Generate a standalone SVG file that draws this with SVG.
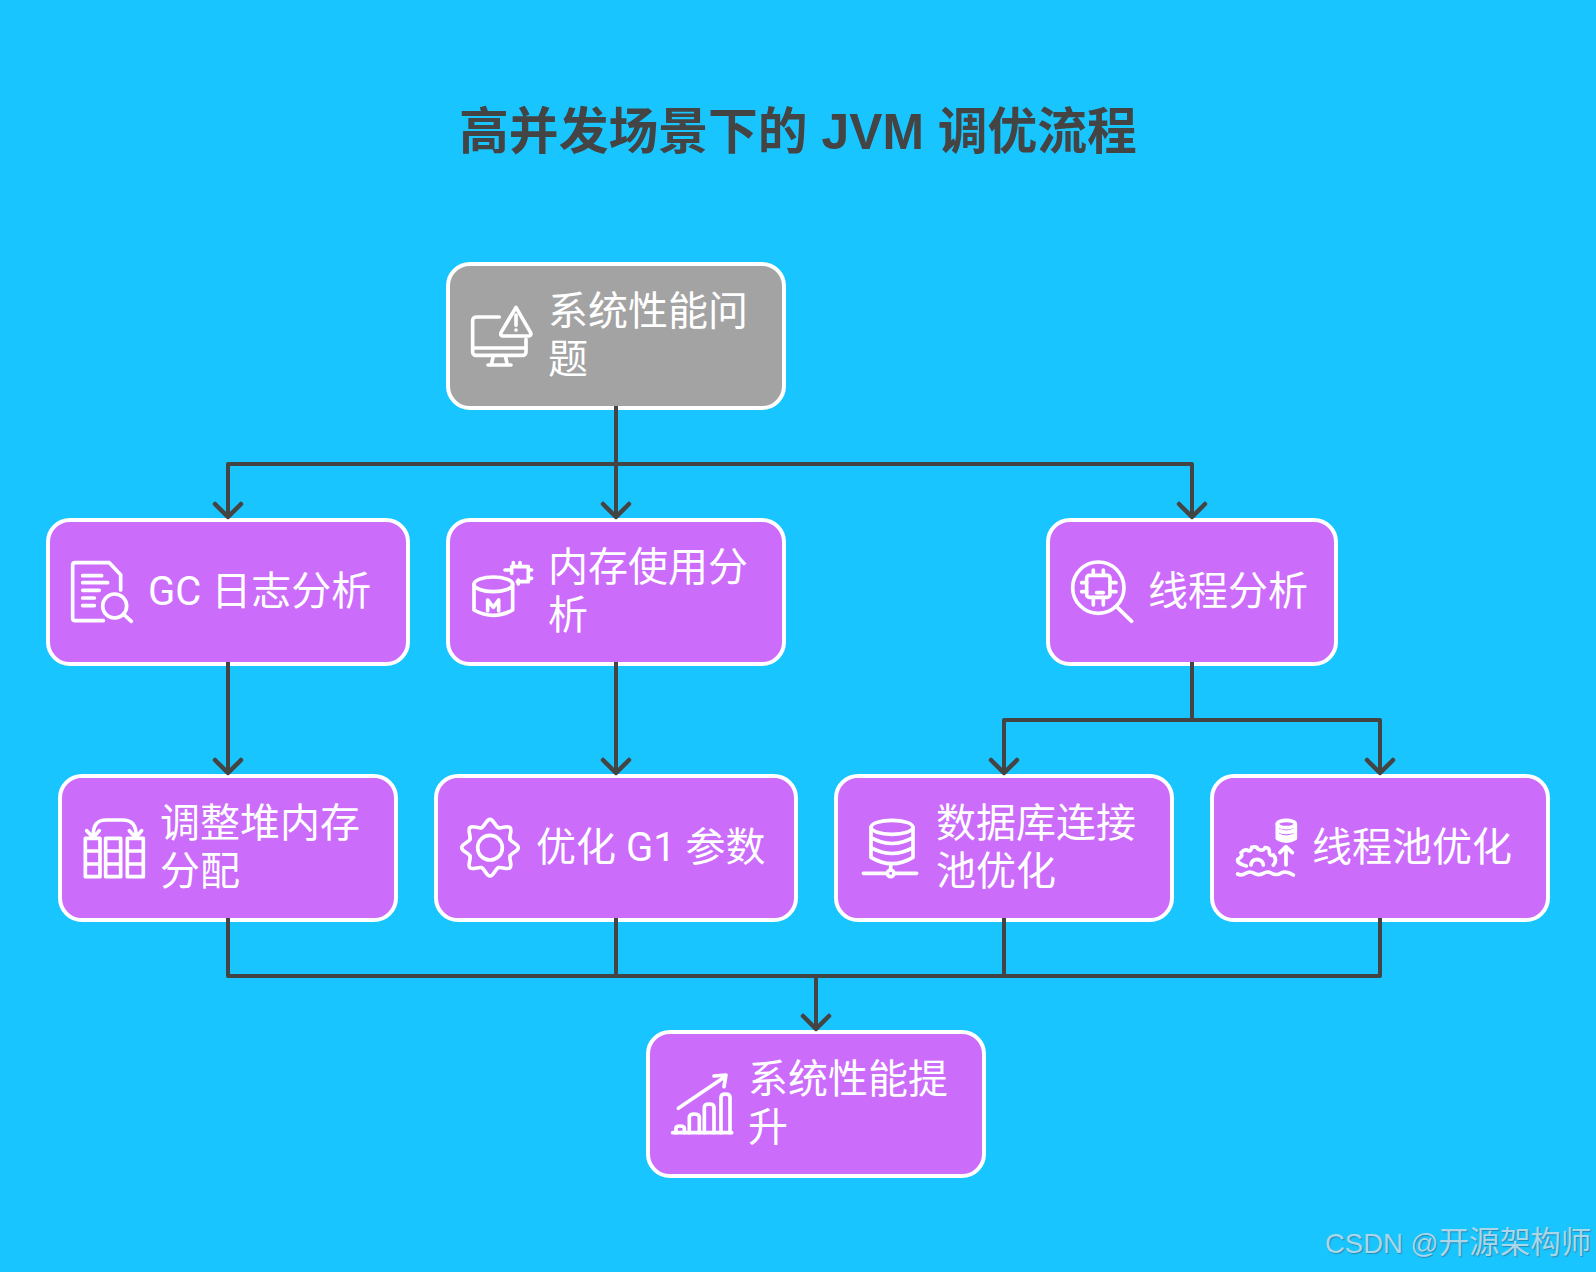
<svg xmlns="http://www.w3.org/2000/svg" xmlns:xlink="http://www.w3.org/1999/xlink" width="1596" height="1272" viewBox="0 0 1596 1272">
<style>
.box{stroke:#fff;stroke-width:4}
.p{fill:#cc6cfb}
.g{fill:#a3a3a3}
.t{font-family:Roboto,"Noto Sans CJK SC",sans-serif;font-size:40px;fill:#fff}
.ic{fill:none;stroke:#fff;stroke-width:11;stroke-linecap:round;stroke-linejoin:round}
.c{fill:none;stroke:#444;stroke-width:4;stroke-linejoin:round}
.a{fill:none;stroke:#444;stroke-width:4.5;stroke-linecap:round;stroke-linejoin:round}
.title{font-family:"Liberation Sans","Noto Sans CJK SC",sans-serif;font-size:49.8px;font-weight:700;fill:#444}
.wm{font-family:"Liberation Sans","Noto Sans CJK SC",sans-serif;font-size:27.5px;fill:#a9d6e8;text-shadow:1px 1px 1px rgba(50,90,120,.55)}
.wm2{font-size:30.6px}
</style>
<defs>
<path id="tooth" d="M-24.9-60C-16-63.8-11-85 0-85S16-63.8 24.9-60"/>
</defs>
<rect width="1596" height="1272" fill="#19c5ff"/>
<text class="title" x="798" y="149" text-anchor="middle">高并发场景下的 JVM 调优流程</text>
<g id="n1">
<rect class="box g" x="448" y="264" width="336" height="144" rx="22"/>
<g class="ic" transform="translate(430 250) scale(.3333)">
<path d="M208 201H138a10 10 0 0 0-10 10V306a10 10 0 0 0 10 10H278a10 10 0 0 0 10-10V268"/>
<path d="M128 294H288M190 318L184 344M226 318L232 344M174 345H243"/>
<path d="M258 172L302 248Q305 258 296 258H220Q210 258 213 248Z"/>
<path d="M258 195V226M258 240V240"/>
</g>
<text class="t" x="548" y="325">系统性能问</text>
<text class="t" x="548" y="373">题</text>
</g>
<g id="n2">
<rect class="box p" x="48" y="520" width="360" height="144" rx="22"/>
<g class="ic" transform="translate(40 510) scale(.3333)">
<path d="M190 332H106Q98 332 98 324V166Q98 158 106 158H208L242 194V240"/>
<path d="M128 197H185M128 218H203M128 241H178M128 264H163M128 287H163"/>
<circle cx="224" cy="288" r="36"/>
<path d="M250 312L274 334"/>
</g>
<text class="t" x="148" y="605">GC 日志分析</text>
</g>
<g id="n3">
<rect class="box p" x="448" y="520" width="336" height="144" rx="22"/>
<g class="ic" transform="translate(460 550) scale(.3333)">
<ellipse cx="100" cy="103" rx="58" ry="22"/>
<path d="M42 103V180Q100 212 158 180V103"/>
<path d="M83 183V150L100 172L116 150V183"/>
<path d="M155 70V50H205V95H172M160 38V50M180 38V50M135 60H155M205 60H215M205 85H215M175 90V102"/>
</g>
<text class="t" x="548" y="581">内存使用分</text>
<text class="t" x="548" y="629">析</text>
</g>
<g id="n4">
<rect class="box p" x="1048" y="520" width="288" height="144" rx="22"/>
<g class="ic" transform="translate(1040 510) scale(.3333)">
<circle cx="175" cy="233" r="77"/>
<path d="M232 292L275 334"/>
<rect x="140" y="196" width="70" height="66" rx="8"/>
<path d="M160 180V196M190 180V196M160 262V285M190 262V285M125 218H140M125 245H140M210 218H228M210 245H228M170 248H190"/>
</g>
<text class="t" x="1148" y="605">线程分析</text>
</g>
<g id="n5">
<rect class="box p" x="60" y="776" width="336" height="144" rx="22"/>
<g class="ic" transform="translate(50 770) scale(.3333)">
<path d="M106 205H150V320H106ZM167 205H212V320H167ZM232 205H280V320H232ZM106 243H150M106 282H150M167 243H212M167 282H212M232 243H280M232 282H280"/>
<path d="M130 198Q128 150 168 150H218Q260 150 258 198M110 182L130 203L148 182M238 182L258 203L275 182"/>
</g>
<text class="t" x="160" y="837">调整堆内存</text>
<text class="t" x="160" y="885">分配</text>
</g>
<g id="n6">
<rect class="box p" x="436" y="776" width="360" height="144" rx="22"/>
<g class="ic" transform="translate(430 770) scale(.3333)">
<circle cx="180" cy="233" r="37"/>
<g transform="translate(180 233)">
<use xlink:href="#tooth" href="#tooth"/>
<use xlink:href="#tooth" href="#tooth" transform="rotate(45)"/>
<use xlink:href="#tooth" href="#tooth" transform="rotate(90)"/>
<use xlink:href="#tooth" href="#tooth" transform="rotate(135)"/>
<use xlink:href="#tooth" href="#tooth" transform="rotate(180)"/>
<use xlink:href="#tooth" href="#tooth" transform="rotate(225)"/>
<use xlink:href="#tooth" href="#tooth" transform="rotate(270)"/>
<use xlink:href="#tooth" href="#tooth" transform="rotate(315)"/>
</g>
</g>
<text class="t" x="536" y="861">优化 G1 参数</text>
</g>
<g id="n7">
<rect class="box p" x="836" y="776" width="336" height="144" rx="22"/>
<g class="ic" transform="translate(830 770) scale(.3333)">
<ellipse cx="186" cy="172" rx="63" ry="21"/>
<path d="M123 172V262Q186 300 249 262V172M123 203Q186 238 249 203M123 233Q186 268 249 233M182 285V300M100 310H172M192 310H260"/>
<circle cx="182" cy="310" r="10"/>
</g>
<text class="t" x="936" y="837">数据库连接</text>
<text class="t" x="936" y="885">池优化</text>
</g>
<g id="n8">
<rect class="box p" x="1212" y="776" width="336" height="144" rx="22"/>
<g class="ic" transform="translate(1225 810) scale(.3333)">
<ellipse cx="184" cy="42" rx="27" ry="11"/>
<path d="M157 42V85Q184 102 211 85V42M157 60Q184 74 211 60M157 75Q184 89 211 75"/>
<path d="M183 165V112M165 128L183 110L202 128"/>
<path d="M64 168Q35 160 38 148Q55 140 48 128Q60 115 70 122Q78 125 80 112Q95 108 100 118Q115 125 120 113Q135 112 133 128Q135 140 145 135Q158 150 145 165"/>
<path d="M78 165Q80 148 97 148Q113 150 115 165"/>
<path d="M38 192Q50 198 62 190Q75 182 88 190Q100 198 115 190Q128 182 140 190Q155 198 170 188Q185 182 205 195"/>
</g>
<text class="t" x="1312" y="861">线程池优化</text>
</g>
<g id="n9">
<rect class="box p" x="648" y="1032" width="336" height="144" rx="22"/>
<g class="ic" transform="translate(640 1020) scale(.3333)">
<path d="M98 338H275"/>
<path d="M108 338V325Q108 318 120 318Q133 318 133 325V338M148 338V292Q148 282 163 282Q178 282 178 292V338M193 338V262Q193 252 208 252Q222 252 222 262V338M243 338V232Q243 222 256 222Q270 222 270 232V338"/>
<path d="M115 265L255 170M222 168L258 165L252 200"/>
</g>
<text class="t" x="748" y="1093">系统性能提</text>
<text class="t" x="748" y="1141">升</text>
</g>
<g id="connectors">
<path class="c" d="M616 406V517M616 464H228V517M616 464H1192V517M228 662V773M616 662V773M1192 662V720H1004V773M1192 720H1380V773M228 918V976H816M616 918V976M1004 918V976M1380 918V976H816M816 976V1029"/>
<path class="a" d="M215 504L228 517L241 504M603 504L616 517L629 504M1179 504L1192 517L1205 504M215 760L228 773L241 760M603 760L616 773L629 760M991 760L1004 773L1017 760M1367 760L1380 773L1393 760M803 1016L816 1029L829 1016"/>
</g>
<text class="wm" x="1325" y="1253">CSDN @<tspan class="wm2">开源架构师</tspan></text>
</svg>
